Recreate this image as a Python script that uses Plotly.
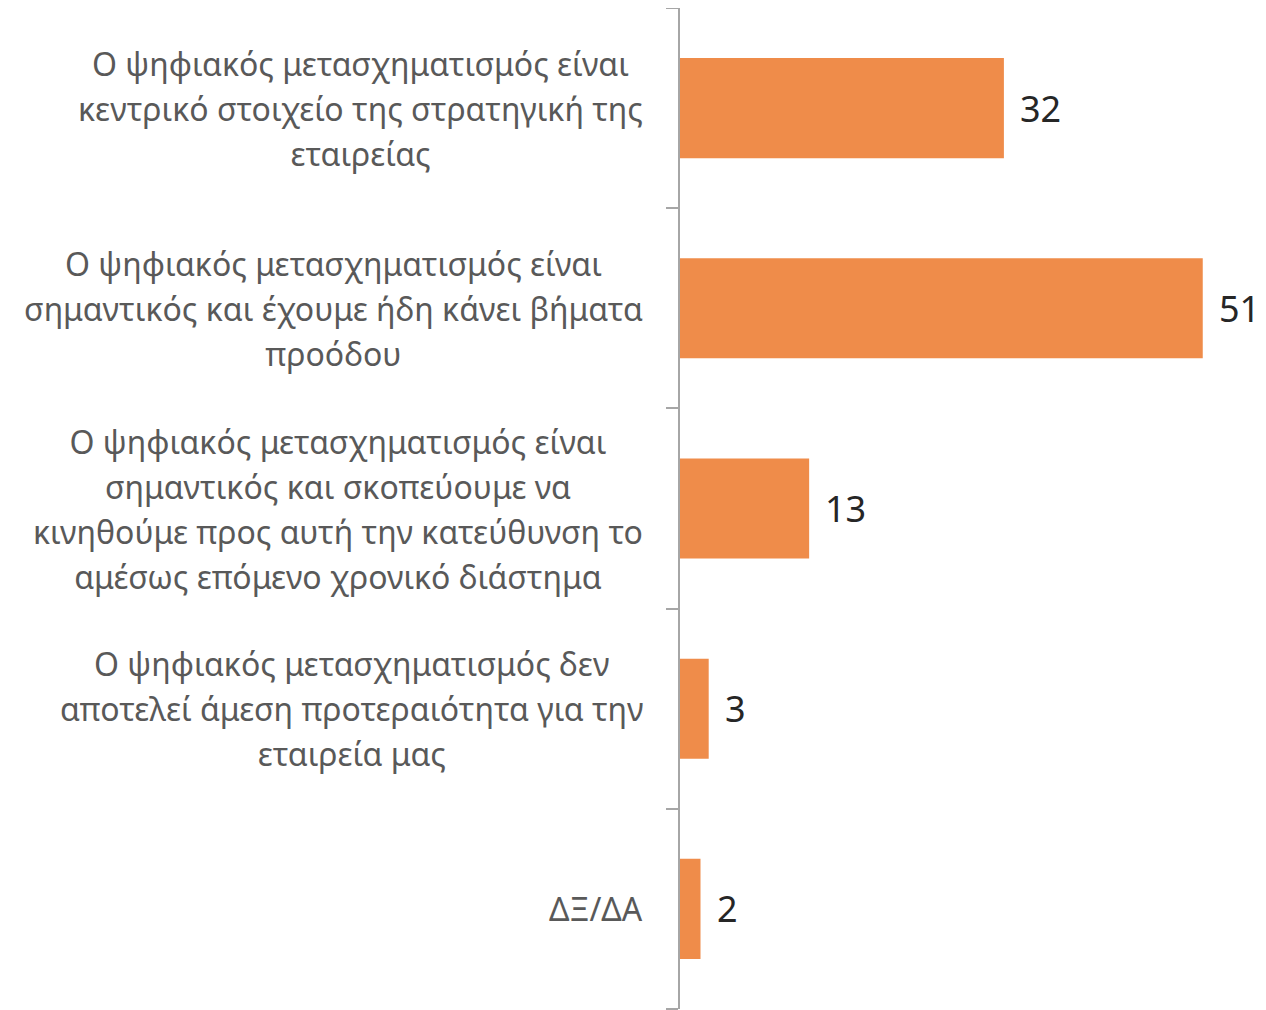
import plotly.graph_objects as go

categories = [
    "Ο ψηφιακός μετασχηματισμός είναι<br>κεντρικό στοιχείο της στρατηγική της<br>εταιρείας",
    "Ο ψηφιακός μετασχηματισμός είναι<br>σημαντικός και έχουμε ήδη κάνει βήματα<br>προόδου",
    "Ο ψηφιακός μετασχηματισμός είναι<br>σημαντικός και σκοπεύουμε να<br>κινηθούμε προς αυτή την κατεύθυνση το<br>αμέσως επόμενο χρονικό διάστημα",
    "Ο ψηφιακός μετασχηματισμός δεν<br>αποτελεί άμεση προτεραιότητα για την<br>εταιρεία μας",
    "ΔΞ/ΔΑ",
]
values = [31.6, 51.0, 12.6, 2.8, 2.0]
value_labels = ["32", "51", "13", "3", "2"]

# page body has an 8px default margin; compensate
W, H = 1258, 1002
ML, MR, MT, MB = 672, 0, 0, 1
px_per_unit = 10.25
plot_w = W - ML - MR
xmax = plot_w / px_per_unit
n = len(categories)

fig = go.Figure()
fig.add_trace(go.Bar(
    y=list(range(n)),
    x=values,
    orientation="h",
    marker=dict(color="#EF8C4A", line=dict(width=0)),
    width=0.5,
    hoverinfo="skip",
))

annotations = []
for i, cat in enumerate(categories):
    annotations.append(dict(
        x=-35 / plot_w, xref="paper", xanchor="right",
        y=i, yref="y", yanchor="middle",
        text="<span style='font-size:32px'>" + cat + "</span>",
        showarrow=False, align="center",
        font=dict(family="Noto Sans", size=34.6, color="#595959"),
    ))
for i, (v, lab) in enumerate(zip(values, value_labels)):
    annotations.append(dict(
        x=v, xref="x", xanchor="left", xshift=14,
        y=i, yref="y", yanchor="middle",
        text=lab, showarrow=False,
        font=dict(family="Noto Sans", size=36, color="#262626"),
    ))

fig.update_layout(
    width=W, height=H,
    margin=dict(l=ML, r=MR, t=MT, b=MB),
    paper_bgcolor="white", plot_bgcolor="white",
    showlegend=False,
    annotations=annotations,
    xaxis=dict(range=[0, xmax], visible=False, fixedrange=True),
    yaxis=dict(
        range=[n - 0.5, -0.5],
        tickmode="array", tickvals=[i - 0.5 for i in range(n + 1)],
        showticklabels=False, showgrid=False, zeroline=False,
        showline=True, linecolor="#A6A6A6", linewidth=1.5,
        ticks="outside", ticklen=12, tickcolor="#A6A6A6", tickwidth=1.5,
        fixedrange=True,
    ),
)

fig.write_html("out.html")
